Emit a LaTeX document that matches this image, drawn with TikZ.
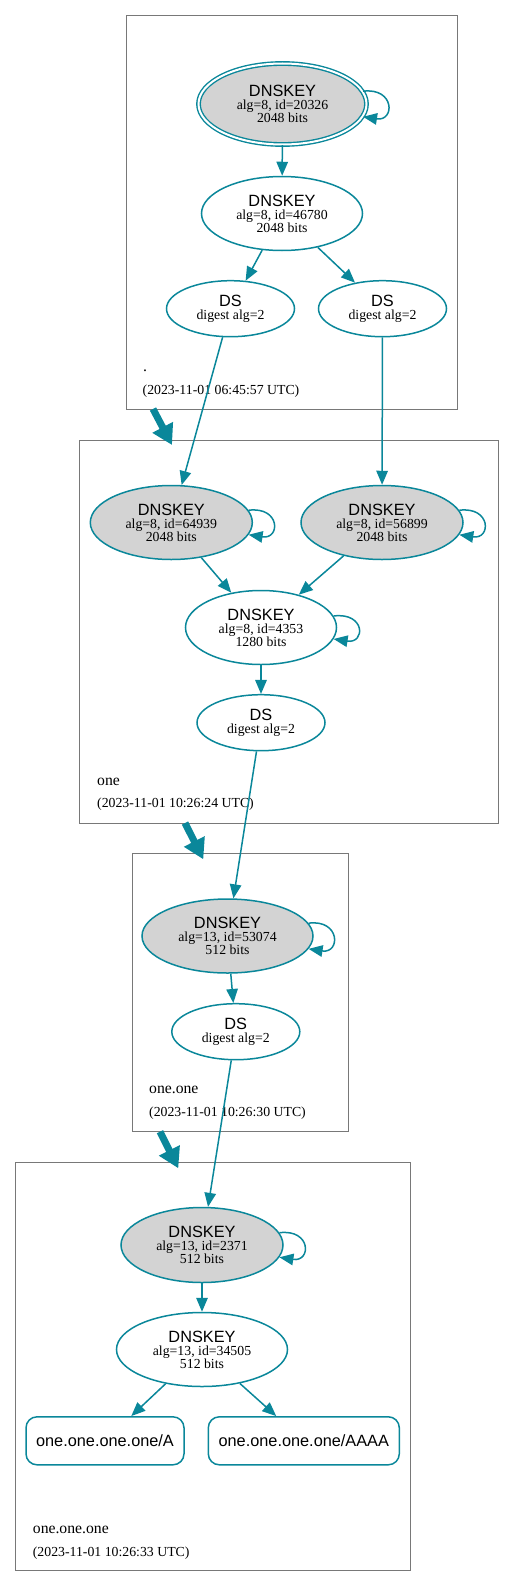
\documentclass[tikz,border=0pt]{standalone}
\usepackage{fontspec}
\setmainfont{Liberation Serif}
\setsansfont{Liberation Sans}
\usetikzlibrary{arrows.meta,positioning,shapes.geometric}
\definecolor{dnsteal}{RGB}{10,135,154}
\definecolor{dnsgray}{RGB}{211,211,211}
\definecolor{zonegray}{RGB}{120,120,120}
\newcommand{\dnshead}{\sffamily\fontsize{16.3}{16}\selectfont}

\begin{document}
\begin{tikzpicture}[
    x=1pt, y=-1pt,
    font=\fontsize{13.8}{13}\selectfont,
    zone/.style={draw=zonegray, line width=1pt},
    zonename/.style={anchor=base west, inner sep=0pt, font=\fontsize{15.7}{16}\selectfont},
    zonedate/.style={anchor=base west, inner sep=0pt},
    key/.style={ellipse, draw=dnsteal, line width=1.5pt, fill=white, align=center, inner sep=0pt, minimum width=161pt, minimum height=74pt},
    ksk/.style={key, fill=dnsgray},
    dsrec/.style={ellipse, draw=dnsteal, line width=1.5pt, align=center, inner sep=0pt, minimum width=128pt, minimum height=56pt},
    rrset/.style={rectangle, rounded corners=11pt, draw=dnsteal, line width=1.5pt, minimum height=48pt, font=\dnshead},
    arrow/.style={-{Triangle[length=14pt,width=11.5pt]}, dnsteal, line width=1.5pt},
    deleg/.style={-{Triangle[length=20pt,width=22pt]}, dnsteal, line width=7pt}
]
\useasboundingbox (0,0) rectangle (515,1587);

% Zone boxes
\draw[zone] (126.7,15.7) rectangle (457.5,409);
\draw[zone] (79.3,440) rectangle (498.7,823);
\draw[zone] (132,853.3) rectangle (348,1131.7);
\draw[zone] (15.7,1162.3) rectangle (410.5,1570.5);

% Root zone
\node[ksk, double=white, double distance=2pt, line width=1.4pt, minimum width=168pt, minimum height=81pt] (rootksk) at (282.5,104) {{\dnshead DNSKEY}\\alg=8, id=20326\\2048 bits};
\node[key] (rootzsk) at (282,213.5) {{\dnshead DNSKEY}\\alg=8, id=46780\\2048 bits};
\node[dsrec] (rootdsa) at (230.5,308.7) {{\dnshead DS}\\digest alg=2};
\node[dsrec] (rootdsb) at (382.5,308.7) {{\dnshead DS}\\digest alg=2};
\node[zonename] (rootname) at (143,371) {.};
\node[zonedate] (rootdate) at (142.5,394) {(2023-11-01 06:45:57 UTC)};

% Zone one
\node[ksk, minimum width=162pt] (onekska) at (171.3,522.5) {{\dnshead DNSKEY}\\alg=8, id=64939\\2048 bits};
\node[ksk, minimum width=162pt] (onekskb) at (382,522.5) {{\dnshead DNSKEY}\\alg=8, id=56899\\2048 bits};
\node[key, minimum width=151pt] (onezsk) at (261,627.5) {{\dnshead DNSKEY}\\alg=8, id=4353\\1280 bits};
\node[dsrec] (oneds) at (261,722.7) {{\dnshead DS}\\digest alg=2};
\node[zonename] (onename) at (97,785) {one};
\node[zonedate] (onedate) at (97,807.5) {(2023-11-01 10:26:24 UTC)};

% Zone one.one
\node[ksk, minimum width=171pt] (twoksk) at (227.5,936) {{\dnshead DNSKEY}\\alg=13, id=53074\\512 bits};
\node[dsrec] (twods) at (235.8,1031.7) {{\dnshead DS}\\digest alg=2};
\node[zonename] (twoname) at (149,1093) {one.one};
\node[zonedate] (twodate) at (149,1116.5) {(2023-11-01 10:26:30 UTC)};

% Zone one.one.one
\node[ksk, minimum width=162pt, minimum height=75pt] (threeksk) at (202,1245) {{\dnshead DNSKEY}\\alg=13, id=2371\\512 bits};
\node[key, minimum width=171pt] (threezsk) at (202,1349.5) {{\dnshead DNSKEY}\\alg=13, id=34505\\512 bits};
\node[rrset, minimum width=158pt] (rra) at (105,1440.8) {one.one.one.one/A};
\node[rrset, minimum width=191pt] (rraaaa) at (303.8,1440.8) {one.one.one.one/AAAA};
\node[zonename] (threename) at (32.7,1533) {one.one.one};
\node[zonedate] (threedate) at (32.7,1556) {(2023-11-01 10:26:33 UTC)};

% Self signatures
\foreach \k in {rootksk,onekska,onekskb,onezsk,twoksk,threeksk}
    \draw[arrow] (\k.9) .. controls +(32,-4) and +(32,5) .. (\k.-9);

% Signatures and digests
\draw[arrow] (rootksk) -- (rootzsk);
\draw[arrow] (rootzsk) -- (rootdsa);
\draw[arrow] (rootzsk) -- (rootdsb);
\draw[arrow] (rootdsa) -- (onekska);
\draw[arrow] (rootdsb) -- (onekskb);
\draw[arrow] (onekska) -- (onezsk);
\draw[arrow] (onekskb) -- (onezsk);
\draw[arrow] (onezsk) -- (oneds);
\draw[arrow] (oneds) -- (twoksk);
\draw[arrow] (twoksk) -- (twods);
\draw[arrow] (twods) -- (threeksk);
\draw[arrow] (threeksk) -- (threezsk);
\draw[arrow] (threezsk) -- (rra);
\draw[arrow] (threezsk) -- (rraaaa);

% Delegations
\coordinate (rootout) at (153,409);
\coordinate (onein) at (172,445);
\coordinate (oneout) at (185,823);
\coordinate (twoin) at (203.3,859.3);
\coordinate (twoout) at (160,1131.7);
\coordinate (threein) at (178.3,1168.3);
\draw[deleg] (rootout) -- (onein);
\draw[deleg] (oneout) -- (twoin);
\draw[deleg] (twoout) -- (threein);

\end{tikzpicture}
\end{document}
